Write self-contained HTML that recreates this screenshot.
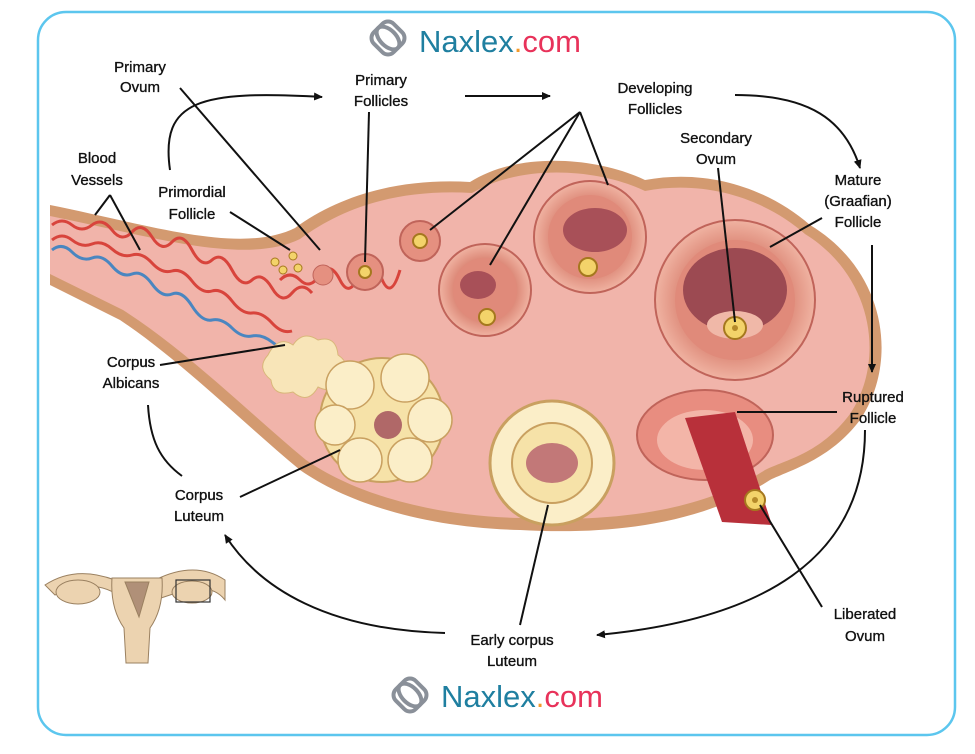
<!DOCTYPE html>
<html><head><meta charset="utf-8"><style>
html,body{margin:0;padding:0;background:#fff;width:975px;height:754px;overflow:hidden}
svg{display:block}
text{font-family:"Liberation Sans",sans-serif;font-size:15px;fill:#111;stroke:#111;stroke-width:0.35;text-anchor:middle}
</style></head><body>
<svg width="975" height="754" viewBox="0 0 975 754">
<defs>
<marker id="ah" markerWidth="10" markerHeight="10" refX="8" refY="5" orient="auto" markerUnits="userSpaceOnUse"><path d="M0,1 L9,5 L0,9 Z" fill="#111"/></marker>
<radialGradient id="fol" cx="50%" cy="50%" r="50%"><stop offset="0.6" stop-color="#d87f6e"/><stop offset="1" stop-color="#f0b3a2"/></radialGradient>
</defs>
<rect x="38" y="12" width="917" height="723" rx="28" fill="#fff" stroke="#5cc6ee" stroke-width="2.5"/>
<!-- logos -->
<g fill="none" stroke="#8a9099" stroke-width="4"><rect x="374" y="24" width="28" height="28" rx="8" transform="rotate(45 388 38)"/><ellipse cx="388" cy="38" rx="8" ry="14" transform="rotate(-45 388 38)"/></g>
<text x="500" y="52" style="font-size:31px;stroke:none"><tspan fill="#1f7fa0">Naxlex</tspan><tspan fill="#f39a2a">.</tspan><tspan fill="#e8325a">com</tspan></text>
<g fill="none" stroke="#8a9099" stroke-width="4"><rect x="396" y="681" width="28" height="28" rx="8" transform="rotate(45 410 695)"/><ellipse cx="410" cy="695" rx="8" ry="14" transform="rotate(-45 410 695)"/></g>
<text x="522" y="707" style="font-size:31px;stroke:none"><tspan fill="#1f7fa0">Naxlex</tspan><tspan fill="#f39a2a">.</tspan><tspan fill="#e8325a">com</tspan></text>

<!-- ovary body -->
<path d="M50,205 C150,225 240,255 295,228 C340,195 400,178 470,182 C520,150 600,158 645,180 C710,168 770,190 810,225 C885,270 900,360 860,420 C830,460 790,470 770,480 C700,525 610,535 520,530 C430,528 350,505 300,470 C240,420 180,360 120,320 L50,285 Z" fill="#d39a70"/>
<path d="M50,216 C150,236 245,266 300,239 C345,206 400,189 472,193 C522,163 600,169 645,191 C708,179 768,201 805,234 C873,276 886,360 850,414 C820,454 785,460 765,470 C700,513 610,522 520,518 C432,516 355,494 306,460 C246,410 186,350 123,310 L50,274 Z" fill="#f1b4aa"/>
<!-- vessels -->
<g fill="none" stroke-width="3">
<path d="M52,225 q10,-8 20,0 t20,0 t20,5 t20,2 t20,5 t20,5 t20,8 t20,10 t20,10 t20,10 t20,8 t20,5 t20,0" stroke="#d8443c"/>
<path d="M52,240 q10,-8 20,0 t20,4 t20,5 t20,6 t20,8 t20,8 t20,10 t20,10 t20,10 t20,12 t20,10 t20,8" stroke="#d8443c"/>
<path d="M52,250 q10,-8 20,2 t20,6 t20,8 t20,8 t20,10 t20,10 t20,12 t20,14 t20,8 t20,8 t20,6 t20,10 t20,14 t20,10 t20,8" stroke="#4a86c0"/>
<path d="M280,280 q10,-10 20,0 t20,-5 t20,5 t20,-8 t20,2 t20,-4" stroke="#d8443c"/>
</g>
<!-- corpus albicans -->
<path d="M268,355 q10,-20 25,-10 q10,-15 25,-5 q18,-5 20,15 q15,10 0,22 q-5,18 -20,10 q-10,18 -25,5 q-20,5 -22,-12 q-15,-12 -3,-25z" fill="#f8e5b8" stroke="#d9b77a"/>
<!-- corpus luteum -->
<circle cx="382" cy="420" r="62" fill="#f6e2a8" stroke="#c9a060" stroke-width="2"/>
<g fill="#fbeec8" stroke="#c9a060" stroke-width="1.5">
<circle cx="350" cy="385" r="24"/><circle cx="405" cy="378" r="24"/><circle cx="430" cy="420" r="22"/><circle cx="410" cy="460" r="22"/><circle cx="360" cy="460" r="22"/><circle cx="335" cy="425" r="20"/>
</g>
<circle cx="388" cy="425" r="14" fill="#b06868"/>
<!-- early corpus luteum -->
<circle cx="552" cy="463" r="62" fill="#fbeec8" stroke="#c9a060" stroke-width="3"/>
<circle cx="552" cy="463" r="40" fill="#f6e2a8" stroke="#c9a060" stroke-width="2"/>
<ellipse cx="552" cy="463" rx="26" ry="20" fill="#c27878"/>
<!-- ruptured follicle -->
<ellipse cx="705" cy="435" rx="68" ry="45" fill="#e88d80" stroke="#c0645a" stroke-width="2"/>
<ellipse cx="705" cy="440" rx="48" ry="30" fill="#f3b5a8"/>
<path d="M685,418 L735,412 L772,525 L722,522 Z" fill="#b8303a"/>
<circle cx="755" cy="500" r="10" fill="#f3d36a" stroke="#a5781e" stroke-width="2"/><circle cx="755" cy="500" r="3" fill="#b58a2a"/>
<!-- mature follicle -->
<circle cx="735" cy="300" r="80" fill="url(#fol)" stroke="#c0645a" stroke-width="2"/>
<circle cx="735" cy="300" r="60" fill="#e08a7a"/>
<ellipse cx="735" cy="290" rx="52" ry="42" fill="#9c4a52"/>
<ellipse cx="735" cy="325" rx="28" ry="14" fill="#f0b8a8"/>
<circle cx="735" cy="328" r="11" fill="#f3d36a" stroke="#a5781e" stroke-width="2"/><circle cx="735" cy="328" r="3" fill="#b58a2a"/>
<!-- developing follicles -->
<circle cx="590" cy="237" r="56" fill="url(#fol)" stroke="#c0645a" stroke-width="2"/>
<circle cx="590" cy="237" r="42" fill="#e08a7a"/>
<ellipse cx="595" cy="230" rx="32" ry="22" fill="#a85058"/>
<circle cx="588" cy="267" r="9" fill="#f3d36a" stroke="#a5781e" stroke-width="2"/>
<circle cx="485" cy="290" r="46" fill="url(#fol)" stroke="#c0645a" stroke-width="2"/>
<circle cx="485" cy="290" r="32" fill="#e08a7a"/>
<ellipse cx="478" cy="285" rx="18" ry="14" fill="#a85058"/>
<circle cx="487" cy="317" r="8" fill="#f3d36a" stroke="#a5781e" stroke-width="2"/>
<circle cx="420" cy="241" r="20" fill="#e59080" stroke="#c0645a" stroke-width="2"/>
<circle cx="420" cy="241" r="7" fill="#f3d36a" stroke="#a5781e" stroke-width="2"/>
<circle cx="365" cy="272" r="18" fill="#e59080" stroke="#c0645a" stroke-width="2"/>
<circle cx="365" cy="272" r="6" fill="#f3d36a" stroke="#a5781e" stroke-width="2"/>
<circle cx="323" cy="275" r="10" fill="#e59080" stroke="#c0645a"/>
<g fill="#f3d36a" stroke="#a5781e"><circle cx="275" cy="262" r="4"/><circle cx="293" cy="256" r="4"/><circle cx="283" cy="270" r="4"/><circle cx="298" cy="268" r="4"/></g>

<!-- uterus icon -->
<g fill="#ecd3b0" stroke="#9a8060" stroke-width="1">
<path d="M45,585 q30,-20 70,-5 q30,15 40,0 q40,-20 70,0 l0,20 q-15,-20 -55,-5 l-15,5 -30,0 q-30,-25 -70,-5z"/>
<ellipse cx="78" cy="592" rx="22" ry="12"/><ellipse cx="192" cy="592" rx="20" ry="11"/>
<path d="M112,578 l50,0 q2,30 -12,50 l-2,35 -22,0 -2,-35 q-14,-20 -12,-50z"/>
<path d="M125,582 l24,0 -10,35z" fill="#b09078"/>
</g>
<rect x="176" y="580" width="34" height="22" fill="none" stroke="#333" stroke-width="1.2"/>

<!-- connectors -->
<g fill="none" stroke="#111" stroke-width="2">
<line x1="180" y1="88" x2="320" y2="250"/>
<path d="M170,170 C160,100 200,90 322,97" marker-end="url(#ah)"/>
<line x1="465" y1="96" x2="550" y2="96" marker-end="url(#ah)"/>
<path d="M735,95 C810,95 845,120 860,168" marker-end="url(#ah)"/>
<line x1="872" y1="245" x2="872" y2="372" marker-end="url(#ah)"/>
<path d="M865,430 C865,560 760,620 597,635" marker-end="url(#ah)"/>
<path d="M445,633 C330,630 260,590 225,535" marker-end="url(#ah)"/>
<path d="M182,476 C160,460 150,440 148,405"/>
<line x1="110" y1="195" x2="95" y2="215"/><line x1="110" y1="195" x2="140" y2="250"/>
<line x1="230" y1="212" x2="290" y2="250"/>
<line x1="369" y1="112" x2="365" y2="262"/>
<line x1="580" y1="112" x2="430" y2="230"/><line x1="580" y1="112" x2="490" y2="265"/><line x1="580" y1="112" x2="608" y2="185"/>
<line x1="718" y1="168" x2="735" y2="322"/>
<line x1="822" y1="218" x2="770" y2="247"/>
<line x1="837" y1="412" x2="737" y2="412"/>
<line x1="822" y1="607" x2="760" y2="505"/>
<line x1="520" y1="625" x2="548" y2="505"/>
<line x1="240" y1="497" x2="340" y2="450"/>
<line x1="160" y1="365" x2="285" y2="345"/>
</g>
<!-- labels -->
<text x="140" y="72">Primary</text><text x="140" y="92">Ovum</text>
<text x="381" y="85">Primary</text><text x="381" y="106">Follicles</text>
<text x="655" y="93">Developing</text><text x="655" y="114">Follicles</text>
<text x="716" y="143">Secondary</text><text x="716" y="164">Ovum</text>
<text x="97" y="163">Blood</text><text x="97" y="185">Vessels</text>
<text x="192" y="197">Primordial</text><text x="192" y="219">Follicle</text>
<text x="858" y="185">Mature</text><text x="858" y="206">(Graafian)</text><text x="858" y="227">Follicle</text>
<text x="131" y="367">Corpus</text><text x="131" y="388">Albicans</text>
<text x="873" y="402">Ruptured</text><text x="873" y="423">Follicle</text>
<text x="199" y="500">Corpus</text><text x="199" y="521">Luteum</text>
<text x="865" y="619">Liberated</text><text x="865" y="641">Ovum</text>
<text x="512" y="645">Early corpus</text><text x="512" y="666">Luteum</text>
</svg>
</body></html>
